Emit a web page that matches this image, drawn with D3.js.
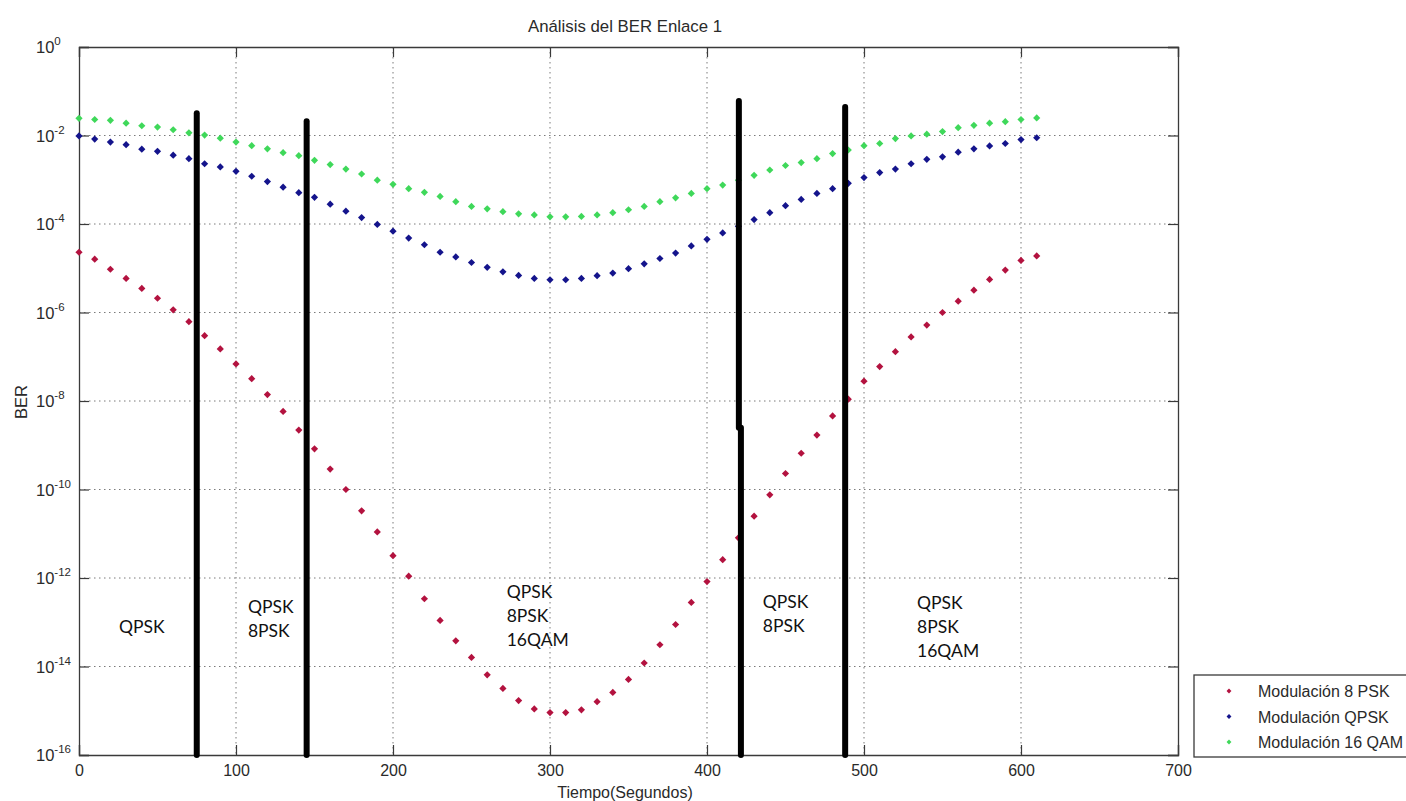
<!DOCTYPE html>
<html><head><meta charset="utf-8">
<script src="https://cdn.jsdelivr.net/npm/d3@7"></script>
<style>body{margin:0;background:#fff;} svg{display:block;}</style>
</head><body><svg id="c" width="1406" height="801"></svg>
<script>
// ---------- data ----------
const tiempo = [0,10,20,30,40,50,60,70,80,90,100,110,120,130,140,150,160,170,180,190,200,210,220,230,240,250,260,270,280,290,300,310,320,330,340,350,360,370,380,390,400,410,420,430,440,450,460,470,480,490,500,510,520,530,540,550,560,570,580,590,600,610];
const ber8PSK = [2.3e-5,1.6e-5,9.5e-6,5.9e-6,3.5e-6,2.1e-6,1.15e-6,6.2e-7,3.0e-7,1.5e-7,6.9e-8,3.2e-8,1.4e-8,5.8e-9,2.2e-9,8.3e-10,2.9e-10,1.0e-10,3.3e-11,1.1e-11,3.2e-12,1.1e-12,3.4e-13,1.1e-13,3.8e-14,1.6e-14,6.5e-15,3.2e-15,1.7e-15,1.1e-15,9.1e-16,9.1e-16,1.05e-15,1.6e-15,2.6e-15,5.1e-15,1.2e-14,3.1e-14,8.9e-14,2.8e-13,8.3e-13,2.6e-12,8.1e-12,2.5e-11,7.6e-11,2.3e-10,6.6e-10,1.7e-9,4.6e-9,1.1e-8,2.8e-8,6.0e-8,1.3e-7,2.8e-7,5.2e-7,1.0e-6,1.8e-6,3.2e-6,5.6e-6,9.1e-6,1.5e-5,1.9e-5];
const berQPSK = [9.8e-3,8.3e-3,7.1e-3,6.2e-3,4.9e-3,4.4e-3,3.6e-3,3.0e-3,2.3e-3,1.95e-3,1.55e-3,1.2e-3,9.1e-4,6.8e-4,5.1e-4,4.0e-4,2.8e-4,1.95e-4,1.4e-4,9.8e-5,6.9e-5,4.8e-5,3.4e-5,2.3e-5,1.8e-5,1.35e-5,1.05e-5,8.3e-6,6.9e-6,5.9e-6,5.5e-6,5.5e-6,5.9e-6,6.8e-6,7.8e-6,9.8e-6,1.26e-5,1.66e-5,2.2e-5,3.2e-5,4.5e-5,6.3e-5,8.9e-5,1.26e-4,1.8e-4,2.6e-4,3.6e-4,4.9e-4,6.3e-4,8.3e-4,1.12e-3,1.45e-3,1.74e-3,2.3e-3,2.9e-3,3.3e-3,4.2e-3,5.0e-3,5.8e-3,6.6e-3,8.1e-3,8.9e-3];
const ber16QAM = [2.45e-2,2.3e-2,2.2e-2,1.9e-2,1.66e-2,1.55e-2,1.35e-2,1.15e-2,1.02e-2,8.7e-3,7.1e-3,5.9e-3,5.0e-3,4.1e-3,3.5e-3,2.75e-3,2.2e-3,1.74e-3,1.35e-3,9.8e-4,7.9e-4,6.3e-4,5.2e-4,4.2e-4,3.2e-4,2.5e-4,2.2e-4,1.9e-4,1.7e-4,1.6e-4,1.45e-4,1.45e-4,1.48e-4,1.6e-4,1.8e-4,2.1e-4,2.5e-4,3.2e-4,3.9e-4,4.9e-4,6.3e-4,7.6e-4,9.8e-4,1.26e-3,1.66e-3,2.1e-3,2.45e-3,3.0e-3,3.9e-3,4.7e-3,5.9e-3,6.6e-3,8.5e-3,9.8e-3,1.07e-2,1.23e-2,1.5e-2,1.7e-2,1.9e-2,2.05e-2,2.3e-2,2.5e-2];
const seriesNames = ["Modulación 8 PSK","Modulación QPSK","Modulación 16 QAM"];
const xTicks = [0,100,200,300,400,500,600,700];
const yTickExps = [0,-2,-4,-6,-8,-10,-12,-14,-16];
// black boundary bar segments: x (s), top BER, bottom BER
const limiteX   = [75, 145, 420.3, 421.6, 488];
const limiteTop = [0.032, 0.021, 0.06, 2.5e-9, 0.044];
const limiteBot = [1e-16, 1e-16, 2.5e-9, 1e-16, 1e-16];
// region labels: x (s), BER anchor of first line, lines
const regionX = [25.5, 107.6, 272.4, 435.5, 533.8];
const regionY = [5.8e-14, 1.6e-13, 3.5e-13, 2.1e-13, 2.0e-13];
const regionText = [["QPSK"],["QPSK","8PSK"],["QPSK","8PSK","16QAM"],["QPSK","8PSK"],["QPSK","8PSK","16QAM"]];

// ---------- layout ----------
const L = 79, R = 1178, T = 47, B = 755;
const colors = ["#b3123f", "#14148c", "#3fd85a"];
const svg = d3.select("#c");
const x = d3.scaleLinear().domain([0,700]).range([L,R]);
const y = d3.scaleLog().domain([1e-16,1]).range([B,T]);
const font = "'Liberation Sans', Arial, sans-serif";
const txt = "#2a2a2a";

// grid
const grid = svg.append("g").attr("stroke","#7a7a7a").attr("stroke-width",1).attr("stroke-dasharray","1.5,3.5");
xTicks.slice(1,-1).forEach(t => grid.append("line").attr("x1",x(t)).attr("x2",x(t)).attr("y1",T).attr("y2",B));
yTickExps.slice(1,-1).forEach(e => grid.append("line").attr("x1",L).attr("x2",R).attr("y1",y(Math.pow(10,e))).attr("y2",y(Math.pow(10,e))));

// axes via d3 axis (inner ticks)
const axB = svg.append("g").attr("transform",`translate(0,${B})`).call(d3.axisBottom(x).tickValues(xTicks).tickSize(-10).tickFormat(d3.format("d")).tickPadding(10));
const axT = svg.append("g").attr("transform",`translate(0,${T})`).call(d3.axisTop(x).tickValues(xTicks).tickSize(-10).tickFormat(""));
const yVals = yTickExps.map(e => Math.pow(10,e));
const axL = svg.append("g").attr("transform",`translate(${L},0)`).call(d3.axisLeft(y).tickValues(yVals).tickSize(-10).tickFormat(""));
const axR = svg.append("g").attr("transform",`translate(${R},0)`).call(d3.axisRight(y).tickValues(yVals).tickSize(-10).tickFormat(""));
[axB,axT,axL,axR].forEach(a => { a.selectAll("path").attr("stroke","#3a3a3a").attr("stroke-width",1.3); a.selectAll("line").attr("stroke","#3a3a3a").attr("stroke-width",1.2); });
axB.selectAll("text").attr("font-family",font).attr("font-size",16).attr("fill",txt);
// y tick labels 10^e
const yl = svg.append("g").attr("font-family",font).attr("fill",txt);
yTickExps.forEach(e => {
  const t = yl.append("text").attr("x",36).attr("y",y(Math.pow(10,e))+6).attr("font-size",16.5);
  t.append("tspan").text("10");
  t.append("tspan").attr("dy",-8).attr("font-size",11.5).text(String(e));
});

// markers
const sym = d3.symbol().type(d3.symbolSquare).size(26);
const allSeries = [ber8PSK, berQPSK, ber16QAM];
allSeries.forEach((s,k) => {
  svg.append("g").selectAll("path").data(s).join("path")
    .attr("d", sym)
    .attr("transform",(d,i)=>`translate(${x(tiempo[i])},${y(d)}) rotate(45)`)
    .attr("fill",colors[k]);
});
// boundary bars (on top of markers)
limiteX.forEach((lx,i) => {
  svg.append("line").attr("x1",x(lx)).attr("x2",x(lx)).attr("y1",y(limiteTop[i])).attr("y2",y(limiteBot[i]))
    .attr("stroke","#000").attr("stroke-width",6).attr("stroke-linecap","round");
});

// region labels
const rg = svg.append("g").attr("font-family","Lato, 'Open Sans', sans-serif").attr("font-size",17.5).attr("fill","#111");
regionText.forEach((lines,i) => {
  lines.forEach((ln,j) => {
    rg.append("text").attr("x",x(regionX[i])).attr("y",y(regionY[i])+j*24).text(ln);
  });
});

// title & labels
svg.append("text").attr("x",625).attr("y",32).attr("text-anchor","middle").attr("font-family",font).attr("font-size",16.8).attr("fill",txt).text("Análisis del BER Enlace 1");
svg.append("text").attr("x",625).attr("y",798).attr("text-anchor","middle").attr("font-family",font).attr("font-size",16).attr("fill",txt).text("Tiempo(Segundos)");
svg.append("text").attr("transform","translate(27,402) rotate(-90)").attr("text-anchor","middle").attr("font-family",font).attr("font-size",16.5).attr("fill",txt).text("BER");

// legend
const lg = svg.append("g");
lg.append("rect").attr("x",1194).attr("y",675).attr("width",260).attr("height",82).attr("fill","#fff").attr("stroke","#3a3a3a").attr("stroke-width",1.3);
seriesNames.forEach((n,k) => {
  const cy = 691 + k*25.5;
  lg.append("path").attr("d",d3.symbol().type(d3.symbolSquare).size(12)).attr("transform",`translate(1229,${cy}) rotate(45)`).attr("fill",colors[k]);
  lg.append("text").attr("x",1258).attr("y",cy+6).attr("font-family",font).attr("font-size",16).attr("fill",txt).text(n);
});
</script></body></html>
